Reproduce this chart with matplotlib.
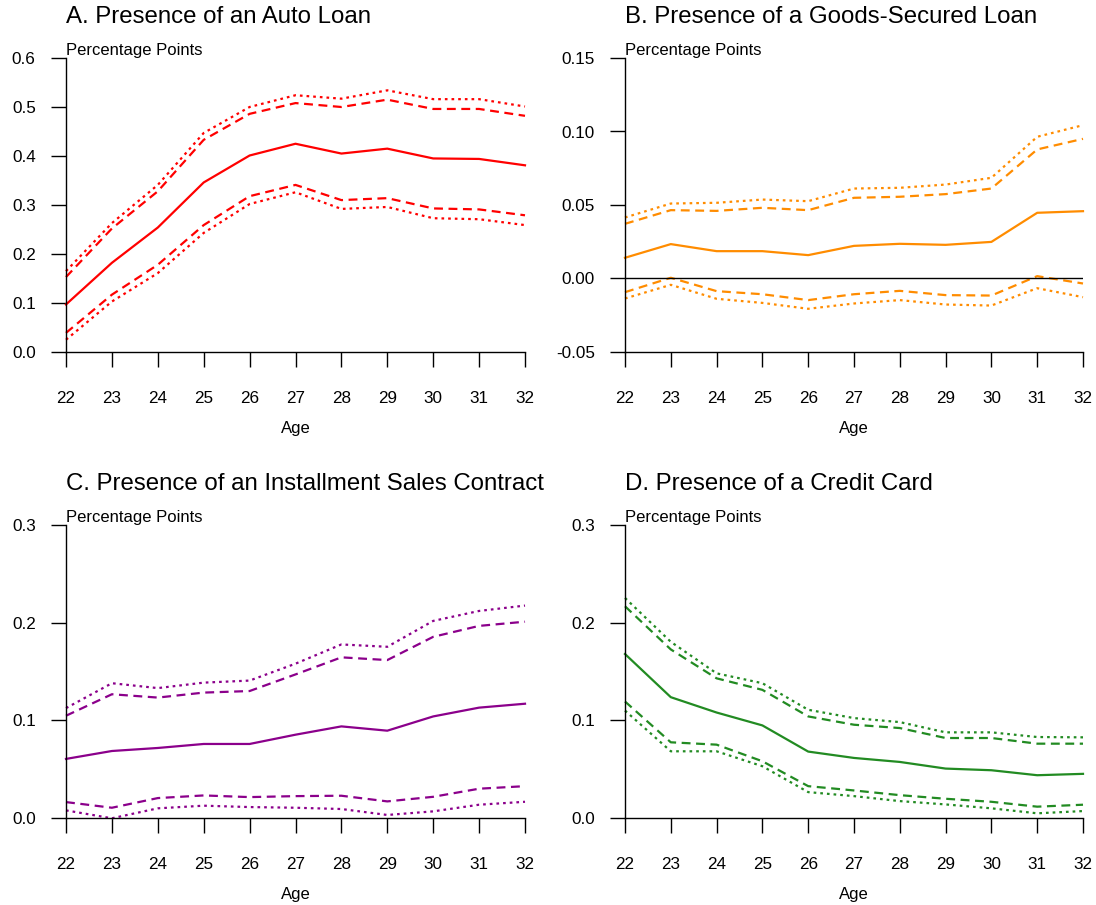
import matplotlib
matplotlib.use("Agg")
import matplotlib.pyplot as plt

plt.rcParams['font.family'] = ['Liberation Sans', 'DejaVu Sans']

ages = [22, 23, 24, 25, 26, 27, 28, 29, 30, 31, 32]

# A. auto loan
auto_est = [0.097, 0.182, 0.254, 0.346, 0.401, 0.425, 0.405, 0.415, 0.395, 0.394, 0.381]
auto_hi95 = [0.153, 0.252, 0.328, 0.433, 0.486, 0.508, 0.500, 0.515, 0.496, 0.496, 0.482]
auto_hi99 = [0.165, 0.263, 0.341, 0.447, 0.500, 0.524, 0.517, 0.534, 0.516, 0.516, 0.501]
auto_lo95 = [0.039, 0.117, 0.178, 0.259, 0.318, 0.341, 0.310, 0.314, 0.293, 0.291, 0.279]
auto_lo99 = [0.025, 0.103, 0.161, 0.243, 0.302, 0.326, 0.292, 0.296, 0.273, 0.271, 0.259]

# B. goods-secured loan
goods_est = [0.0141, 0.0234, 0.0186, 0.0186, 0.0159, 0.0222, 0.0236, 0.0229, 0.0249, 0.0447, 0.0458]
goods_hi95 = [0.0372, 0.0465, 0.0460, 0.0481, 0.0465, 0.0549, 0.0556, 0.0574, 0.0612, 0.0878, 0.0950]
goods_hi99 = [0.0415, 0.0510, 0.0515, 0.0537, 0.0526, 0.0612, 0.0617, 0.0639, 0.0685, 0.0964, 0.1043]
goods_lo95 = [-0.0093, 0.0005, -0.0086, -0.0107, -0.0147, -0.0107, -0.0084, -0.0113, -0.0116, 0.0016, -0.0034]
goods_lo99 = [-0.0136, -0.0043, -0.0138, -0.0166, -0.0206, -0.0170, -0.0147, -0.0177, -0.0184, -0.0066, -0.0127]

# C. installment sales contract
inst_est = [0.0605, 0.0686, 0.0717, 0.0758, 0.0758, 0.0853, 0.0938, 0.0894, 0.1040, 0.1130, 0.1170]
inst_hi95 = [0.1047, 0.1267, 0.1233, 0.1284, 0.1300, 0.1470, 0.1645, 0.1617, 0.1855, 0.1967, 0.2010]
inst_hi99 = [0.1125, 0.1380, 0.1330, 0.1386, 0.1407, 0.1580, 0.1777, 0.1753, 0.2018, 0.2120, 0.2175]
inst_lo95 = [0.0163, 0.0105, 0.0204, 0.0231, 0.0214, 0.0224, 0.0228, 0.0170, 0.0217, 0.0300, 0.0326]
inst_lo99 = [0.0078, -0.0003, 0.0099, 0.0126, 0.0112, 0.0105, 0.0092, 0.0031, 0.0068, 0.0136, 0.0166]

# D. credit card
card_est = [0.1679, 0.1237, 0.1080, 0.0948, 0.0680, 0.0615, 0.0574, 0.0506, 0.0489, 0.0438, 0.0452]
card_hi95 = [0.2168, 0.1726, 0.1430, 0.1312, 0.1040, 0.0955, 0.0921, 0.0819, 0.0819, 0.0761, 0.0761]
card_hi99 = [0.2253, 0.1804, 0.1481, 0.1380, 0.1108, 0.1023, 0.0982, 0.0877, 0.0877, 0.0829, 0.0826]
card_lo95 = [0.1193, 0.0775, 0.0751, 0.0581, 0.0326, 0.0282, 0.0234, 0.0197, 0.0166, 0.0116, 0.0136]
card_lo99 = [0.1100, 0.0683, 0.0683, 0.0530, 0.0265, 0.0224, 0.0173, 0.0139, 0.0099, 0.0048, 0.0071]

panels = [
    ("A. Presence of an Auto Loan", "red",
     [auto_est, auto_hi95, auto_hi99, auto_lo95, auto_lo99],
     (0.0, 0.6), [0.0, 0.1, 0.2, 0.3, 0.4, 0.5, 0.6],
     ["0.0", "0.1", "0.2", "0.3", "0.4", "0.5", "0.6"]),
    ("B. Presence of a Goods-Secured Loan", "#ff8c00",
     [goods_est, goods_hi95, goods_hi99, goods_lo95, goods_lo99],
     (-0.05, 0.15), [-0.05, 0.0, 0.05, 0.10, 0.15],
     ["-0.05", "0.00", "0.05", "0.10", "0.15"]),
    ("C. Presence of an Installment Sales Contract", "#8b008b",
     [inst_est, inst_hi95, inst_hi99, inst_lo95, inst_lo99],
     (0.0, 0.3), [0.0, 0.1, 0.2, 0.3],
     ["0.0", "0.1", "0.2", "0.3"]),
    ("D. Presence of a Credit Card", "#228b22",
     [card_est, card_hi95, card_hi99, card_lo95, card_lo99],
     (0.0, 0.3), [0.0, 0.1, 0.2, 0.3],
     ["0.0", "0.1", "0.2", "0.3"]),
]

W, H = 1096, 905
fig = plt.figure(figsize=(W / 100, H / 100), dpi=100)

# axes boxes in pixels: left, right, top, bottom
boxes = [(66, 525, 58, 352), (625, 1083, 58, 352),
         (66, 525, 525, 818), (625, 1083, 525, 818)]

# estimate, upper 95, upper 99, lower 95, lower 99
styles = ["-", (0, (4, 2.5)), (0, (1.2, 1.8)), (0, (4, 2.5)), (0, (1.2, 1.8))]

for (title, color, series, ylim, yticks, ylabels), (l, r, t, b) in zip(panels, boxes):
    ax = fig.add_axes([l / W, 1 - b / H, (r - l) / W, (b - t) / H])
    for vals, ls in zip(series, styles):
        ax.plot(ages, vals, color=color, lw=1.6, linestyle=ls, clip_on=False)
    if ylim[0] < 0:
        ax.axhline(0, color="black", lw=1.0)
    ax.set_xlim(22, 32)
    ax.set_ylim(*ylim)
    ax.set_xticks(ages)
    ax.set_yticks(yticks)
    ax.set_yticklabels(ylabels)
    ax.spines["top"].set_visible(False)
    ax.spines["right"].set_visible(False)
    for s in ("left", "bottom"):
        ax.spines[s].set_linewidth(1.0)
    ax.tick_params(axis="x", direction="out", length=10.8, width=1.0, pad=17.5, labelsize=12.3)
    ax.tick_params(axis="y", direction="out", length=10.8, width=1.0, pad=11, labelsize=12.3)
    ax.set_xlabel("Age", fontsize=12, labelpad=10.5)
    ax.annotate(title, xy=(0, 1), xycoords="axes fraction", xytext=(0, 25),
                textcoords="offset points", fontsize=17.3, va="baseline", ha="left")
    ax.annotate("Percentage Points", xy=(0, 1), xycoords="axes fraction", xytext=(0, 2.2),
                textcoords="offset points", fontsize=12, va="baseline", ha="left")

fig.savefig("out.png", dpi=100)
